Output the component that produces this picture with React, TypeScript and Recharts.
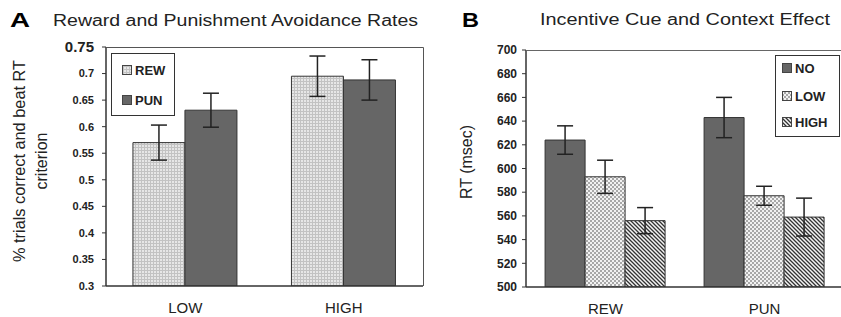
import React from "react";
import { Bar, BarChart, ErrorBar, XAxis, YAxis } from "recharts";

// panel A: avoidance rates by context
const contextCats = ["LOW", "HIGH"];
const rewRate = [0.57, 0.695];
const rewRateErr = [0.033, 0.038];
const punRate = [0.631, 0.688];
const punRateErr = [0.032, 0.038];
const rateTicks = [0.3, 0.35, 0.4, 0.45, 0.5, 0.55, 0.6, 0.65, 0.7, 0.75];

// panel B: RT by incentive cue and context
const cueCats = ["REW", "PUN"];
const noRT = [624, 643];
const noErr = [12, 17];
const lowRT = [593, 577];
const lowErr = [14, 8];
const highRT = [556, 559];
const highErr = [11, 16];
const rtTicks = [500, 520, 540, 560, 580, 600, 620, 640, 660, 680, 700];

const FONT = "'Liberation Sans', Arial, sans-serif";
const DARK = "#666";
const EDGE = "#333";

const rateData = contextCats.map((cat, i) => ({
  cat,
  rew: rewRate[i],
  rewErr: rewRateErr[i],
  pun: punRate[i],
  punErr: punRateErr[i],
}));

const rtData = cueCats.map((cat, i) => ({
  cat,
  no: noRT[i],
  noErr: noErr[i],
  low: lowRT[i],
  lowErr: lowErr[i],
  high: highRT[i],
  highErr: highErr[i],
}));

function RateTick(props: any) {
  const { x, y, payload } = props;
  const big = payload.value === 0.75;
  return (
    <text
      x={x}
      y={y}
      dy="0.35em"
      textAnchor="end"
      fontSize={big ? 15 : 11}
      fontWeight="bold"
      fill="#222"
    >
      {String(payload.value)}
    </text>
  );
}

function Patterns() {
  return (
    <svg width={0} height={0} style={{ position: "absolute" }}>
      <defs>
        <pattern id="pgrid" width={3} height={3} patternUnits="userSpaceOnUse">
          <rect width={3} height={3} fill="#e6e6e6" />
          <path d="M0 0.5H3M0.5 0V3" stroke="#c2c2c2" strokeWidth={1} />
        </pattern>
        <pattern id="pdots" width={4} height={4} patternUnits="userSpaceOnUse">
          <rect width={4} height={4} fill="#f2f2f2" />
          <rect width={2} height={2} fill="#a8a8a8" />
          <rect x={2} y={2} width={2} height={2} fill="#a8a8a8" />
        </pattern>
        <pattern id="phatch" width={4} height={4} patternUnits="userSpaceOnUse">
          <rect width={4} height={4} fill="#f4f4f4" />
          <path d="M-1 -1L5 5M-1 3L1 5M3 -1L5 1" stroke="#333" strokeWidth={1.3} />
        </pattern>
      </defs>
    </svg>
  );
}

function Swatch({ x, y, fill, label }: { x: number; y: number; fill: string; label: string }) {
  return (
    <g>
      <rect x={x + 0.5} y={y + 0.5} width={9} height={9} fill={fill} stroke="#444" />
      <text x={x + 13} y={y + 9.5} fontSize={13} fontWeight="bold" fill="#222">
        {label}
      </text>
    </g>
  );
}

function Overlay() {
  return (
    <svg
      width={841}
      height={317}
      style={{ position: "absolute", left: 0, top: 0, pointerEvents: "none", fontFamily: FONT }}
    >
      {/* plot frames (top / right edges) */}
      <path d="M106 47.5H423.5V286" fill="none" stroke="#555" />
      <path d="M526 50.5H841" fill="none" stroke="#666" />

      {/* headings */}
      <text x={10} y={27} fontSize={20} fontWeight="bold" textLength={20} lengthAdjust="spacingAndGlyphs">A</text>
      <text x={53} y={26} fontSize={16} fill="#222" textLength={365} lengthAdjust="spacingAndGlyphs">
        Reward and Punishment Avoidance Rates
      </text>
      <text x={462} y={27} fontSize={20} fontWeight="bold" textLength={17} lengthAdjust="spacingAndGlyphs">B</text>
      <text x={540} y={25} fontSize={16} fill="#222" textLength={290} lengthAdjust="spacingAndGlyphs">
        Incentive Cue and Context Effect
      </text>

      {/* y axis titles */}
      <text transform="translate(25,161) rotate(-90)" textAnchor="middle" fontSize={16} fill="#222" textLength={202} lengthAdjust="spacingAndGlyphs">
        % trials correct and beat RT
      </text>
      <text transform="translate(47,161) rotate(-90)" textAnchor="middle" fontSize={16} fill="#222">
        criterion
      </text>
      <text transform="translate(472,162) rotate(-90)" textAnchor="middle" fontSize={16} fill="#222">
        RT (msec)
      </text>

      {/* legend A */}
      <rect x={111.5} y={53.5} width={63} height={62} fill="#fff" stroke={EDGE} />
      <Swatch x={122} y={65} fill="url(#pgrid)" label="REW" />
      <Swatch x={122} y={95} fill={DARK} label="PUN" />

      {/* legend B */}
      <rect x={775.5} y={55.5} width={64} height={81} fill="#fff" stroke={EDGE} />
      <Swatch x={782} y={63} fill={DARK} label="NO" />
      <Swatch x={782} y={91} fill="url(#pdots)" label="LOW" />
      <Swatch x={782} y={117} fill="url(#phatch)" label="HIGH" />
    </svg>
  );
}

export default function App() {
  return (
    <div
      style={{
        position: "absolute",
        left: 0,
        top: 0,
        width: 841,
        height: 317,
        overflow: "hidden",
        background: "#fff",
        fontFamily: FONT,
      }}
    >
      <Patterns />

      <div style={{ position: "absolute", left: 0, top: 0 }}>
        <BarChart
          width={430}
          height={317}
          data={rateData}
          margin={{ top: 47, right: 7, left: 56, bottom: 1 }}
          barCategoryGap="17%"
          barGap={0}
        >
          <XAxis
            dataKey="cat"
            tickLine={false}
            tickSize={6}
            tickMargin={10}
            axisLine={{ stroke: EDGE, strokeWidth: 1.5 }}
            tick={{ fontSize: 15, fill: "#222" }}
          />
          <YAxis
            width={50}
            domain={[0.3, 0.75]}
            ticks={rateTicks}
            tickSize={4}
            tickMargin={8}
            tick={<RateTick />}
            tickLine={{ stroke: EDGE }}
            axisLine={{ stroke: EDGE, strokeWidth: 1.5 }}
            allowDataOverflow
          />
          <Bar dataKey="rew" fill="url(#pgrid)" stroke={EDGE} strokeWidth={1} isAnimationActive={false}>
            <ErrorBar dataKey="rewErr" width={8} stroke="#222" strokeWidth={1.5} />
          </Bar>
          <Bar dataKey="pun" fill={DARK} stroke={EDGE} strokeWidth={1} isAnimationActive={false}>
            <ErrorBar dataKey="punErr" width={8} stroke="#222" strokeWidth={1.5} />
          </Bar>
        </BarChart>
      </div>

      <div style={{ position: "absolute", left: 430, top: 0 }}>
        <BarChart
          width={416}
          height={317}
          data={rtData}
          margin={{ top: 50, right: 2, left: 46, bottom: 0 }}
          barCategoryGap="12%"
          barGap={0}
        >
          <XAxis
            dataKey="cat"
            tickLine={false}
            tickSize={6}
            tickMargin={10}
            axisLine={{ stroke: EDGE, strokeWidth: 1.5 }}
            tick={{ fontSize: 15, fill: "#222" }}
          />
          <YAxis
            width={50}
            domain={[500, 700]}
            ticks={rtTicks}
            tickSize={4}
            tickMargin={5}
            tick={{ fontSize: 12, fontWeight: "bold", fill: "#222" }}
            tickLine={{ stroke: EDGE }}
            axisLine={{ stroke: EDGE, strokeWidth: 1.5 }}
            allowDataOverflow
          />
          <Bar dataKey="no" fill={DARK} stroke={EDGE} strokeWidth={1} isAnimationActive={false}>
            <ErrorBar dataKey="noErr" width={8} stroke="#222" strokeWidth={1.5} />
          </Bar>
          <Bar dataKey="low" fill="url(#pdots)" stroke={EDGE} strokeWidth={1} isAnimationActive={false}>
            <ErrorBar dataKey="lowErr" width={8} stroke="#222" strokeWidth={1.5} />
          </Bar>
          <Bar dataKey="high" fill="url(#phatch)" stroke={EDGE} strokeWidth={1} isAnimationActive={false}>
            <ErrorBar dataKey="highErr" width={8} stroke="#222" strokeWidth={1.5} />
          </Bar>
        </BarChart>
      </div>

      <Overlay />
    </div>
  );
}
